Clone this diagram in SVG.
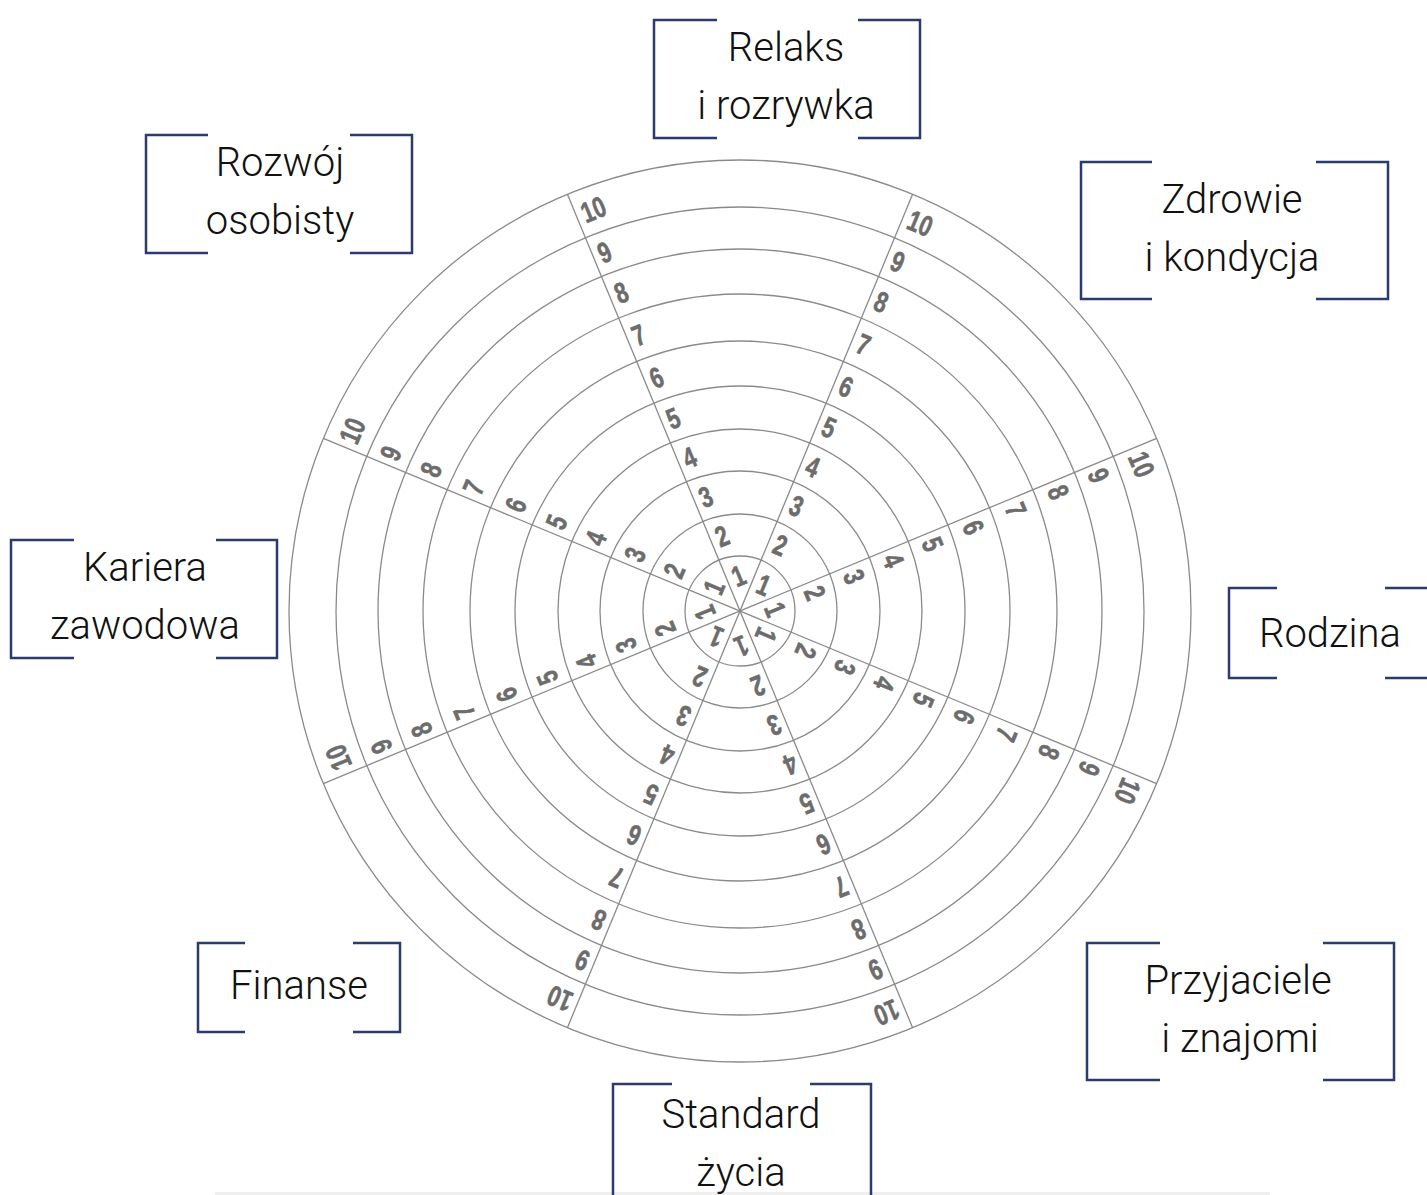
<svg xmlns="http://www.w3.org/2000/svg" width="1427" height="1195" viewBox="0 0 1427 1195">
<style>
.ring{fill:none;stroke:#8a8a8a;stroke-width:1.3}
.spoke{stroke:#8a8a8a;stroke-width:1.3}
.n{font-family:"Liberation Sans",Arial,sans-serif;font-weight:bold;font-size:29px;fill:#6c6c6c;stroke:#6c6c6c;stroke-width:0.6}
.box{fill:none;stroke:#2b3b6e;stroke-width:2.5}
.lbl{font-family:Roboto,"Liberation Sans",sans-serif;font-weight:300;font-size:40px;fill:#111;text-anchor:middle}
</style>
<rect width="1427" height="1195" fill="#fff"/>
<rect x="215" y="1192" width="1055" height="3" fill="#efefef"/>
<g id="wheel">
<circle class="ring" cx="740" cy="611" r="55"/>
<circle class="ring" cx="740" cy="611" r="97"/>
<circle class="ring" cx="740" cy="611" r="140"/>
<circle class="ring" cx="740" cy="611" r="182"/>
<circle class="ring" cx="740" cy="611" r="225"/>
<circle class="ring" cx="740" cy="611" r="270"/>
<circle class="ring" cx="740" cy="611" r="317"/>
<circle class="ring" cx="740" cy="611" r="362"/>
<circle class="ring" cx="740" cy="611" r="404"/>
<circle class="ring" cx="740" cy="611" r="451"/>
</g>
<g id="connectors">
<line class="spoke" x1="567.41" y1="1027.67" x2="912.59" y2="194.33"/>
<line class="spoke" x1="323.33" y1="783.59" x2="1156.67" y2="438.41"/>
<line class="spoke" x1="323.33" y1="438.41" x2="1156.67" y2="783.59"/>
<line class="spoke" x1="567.41" y1="194.33" x2="912.59" y2="1027.67"/>
</g>
<g id="scale-22">
<g transform="translate(740 611) rotate(22.5) scale(0.75 1)">
<text class="n" x="8" y="-23">1</text><text class="n" x="8" y="-66">2</text><text class="n" x="8" y="-108.5">3</text><text class="n" x="8" y="-151">4</text><text class="n" x="8" y="-193.5">5</text><text class="n" x="8" y="-237.5">6</text><text class="n" x="8" y="-283.5">7</text><text class="n" x="8" y="-329.5">8</text><text class="n" x="8" y="-373">9</text><text class="n" x="8" y="-417">10</text>
</g>
</g>
<g id="scale-67">
<g transform="translate(740 611) rotate(67.5) scale(0.75 1)">
<text class="n" x="8" y="-23">1</text><text class="n" x="8" y="-66">2</text><text class="n" x="8" y="-108.5">3</text><text class="n" x="8" y="-151">4</text><text class="n" x="8" y="-193.5">5</text><text class="n" x="8" y="-237.5">6</text><text class="n" x="8" y="-283.5">7</text><text class="n" x="8" y="-329.5">8</text><text class="n" x="8" y="-373">9</text><text class="n" x="8" y="-417">10</text>
</g>
</g>
<g id="scale-112">
<g transform="translate(740 611) rotate(112.5) scale(0.75 1)">
<text class="n" x="8" y="-23">1</text><text class="n" x="8" y="-66">2</text><text class="n" x="8" y="-108.5">3</text><text class="n" x="8" y="-151">4</text><text class="n" x="8" y="-193.5">5</text><text class="n" x="8" y="-237.5">6</text><text class="n" x="8" y="-283.5">7</text><text class="n" x="8" y="-329.5">8</text><text class="n" x="8" y="-373">9</text><text class="n" x="8" y="-417">10</text>
</g>
</g>
<g id="scale-157">
<g transform="translate(740 611) rotate(157.5) scale(0.75 1)">
<text class="n" x="8" y="-23">1</text><text class="n" x="8" y="-66">2</text><text class="n" x="8" y="-108.5">3</text><text class="n" x="8" y="-151">4</text><text class="n" x="8" y="-193.5">5</text><text class="n" x="8" y="-237.5">6</text><text class="n" x="8" y="-283.5">7</text><text class="n" x="8" y="-329.5">8</text><text class="n" x="8" y="-373">9</text><text class="n" x="8" y="-417">10</text>
</g>
</g>
<g id="scale-202">
<g transform="translate(740 611) rotate(202.5) scale(0.75 1)">
<text class="n" x="8" y="-23">1</text><text class="n" x="8" y="-66">2</text><text class="n" x="8" y="-108.5">3</text><text class="n" x="8" y="-151">4</text><text class="n" x="8" y="-193.5">5</text><text class="n" x="8" y="-237.5">6</text><text class="n" x="8" y="-283.5">7</text><text class="n" x="8" y="-329.5">8</text><text class="n" x="8" y="-373">9</text><text class="n" x="8" y="-417">10</text>
</g>
</g>
<g id="scale-247">
<g transform="translate(740 611) rotate(247.5) scale(0.75 1)">
<text class="n" x="8" y="-23">1</text><text class="n" x="8" y="-66">2</text><text class="n" x="8" y="-108.5">3</text><text class="n" x="8" y="-151">4</text><text class="n" x="8" y="-193.5">5</text><text class="n" x="8" y="-237.5">6</text><text class="n" x="8" y="-283.5">7</text><text class="n" x="8" y="-329.5">8</text><text class="n" x="8" y="-373">9</text><text class="n" x="8" y="-417">10</text>
</g>
</g>
<g id="scale-292">
<g transform="translate(740 611) rotate(292.5) scale(0.75 1)">
<text class="n" x="8" y="-23">1</text><text class="n" x="8" y="-66">2</text><text class="n" x="8" y="-108.5">3</text><text class="n" x="8" y="-151">4</text><text class="n" x="8" y="-193.5">5</text><text class="n" x="8" y="-237.5">6</text><text class="n" x="8" y="-283.5">7</text><text class="n" x="8" y="-329.5">8</text><text class="n" x="8" y="-373">9</text><text class="n" x="8" y="-417">10</text>
</g>
</g>
<g id="scale-337">
<g transform="translate(740 611) rotate(337.5) scale(0.75 1)">
<text class="n" x="8" y="-23">1</text><text class="n" x="8" y="-66">2</text><text class="n" x="8" y="-108.5">3</text><text class="n" x="8" y="-151">4</text><text class="n" x="8" y="-193.5">5</text><text class="n" x="8" y="-237.5">6</text><text class="n" x="8" y="-283.5">7</text><text class="n" x="8" y="-329.5">8</text><text class="n" x="8" y="-373">9</text><text class="n" x="8" y="-417">10</text>
</g>
</g>
<g id="label-relaks">
<path class="box" d="M717 20H654V138H717M858 20H920V138H858"/>
<text class="lbl" x="786" y="61">Relaks</text>
<text class="lbl" x="786" y="119">i rozrywka</text>
</g>
<g id="label-rozwoj">
<path class="box" d="M208 135H146V253H208M350 135H412V253H350"/>
<text class="lbl" x="280" y="176">Rozwój</text>
<text class="lbl" x="280" y="234">osobisty</text>
</g>
<g id="label-zdrowie">
<path class="box" d="M1152 162H1081V299H1152M1316 162H1388V299H1316"/>
<text class="lbl" x="1232" y="213">Zdrowie</text>
<text class="lbl" x="1232" y="271">i kondycja</text>
</g>
<g id="label-kariera">
<path class="box" d="M74 540H11V658H74M216 540H277V658H216"/>
<text class="lbl" x="145" y="581">Kariera</text>
<text class="lbl" x="145" y="639">zawodowa</text>
</g>
<g id="label-rodzina">
<path class="box" d="M1277 588H1229V678H1277M1385 588H1432V678H1385"/>
<text class="lbl" x="1330" y="647">Rodzina</text>
</g>
<g id="label-finanse">
<path class="box" d="M245 943H198V1032H245M353 943H400V1032H353"/>
<text class="lbl" x="299" y="999">Finanse</text>
</g>
<g id="label-przyjaciele">
<path class="box" d="M1160 943H1087V1080H1160M1323 943H1394V1080H1323"/>
<text class="lbl" x="1238" y="994">Przyjaciele</text>
<text class="lbl" x="1240" y="1052">i znajomi</text>
</g>
<g id="label-standard">
<path class="box" d="M672 1084H613V1200M810 1084H871V1200"/>
<text class="lbl" x="741" y="1128">Standard</text>
<text class="lbl" x="741" y="1186">życia</text>
</g>
</svg>
